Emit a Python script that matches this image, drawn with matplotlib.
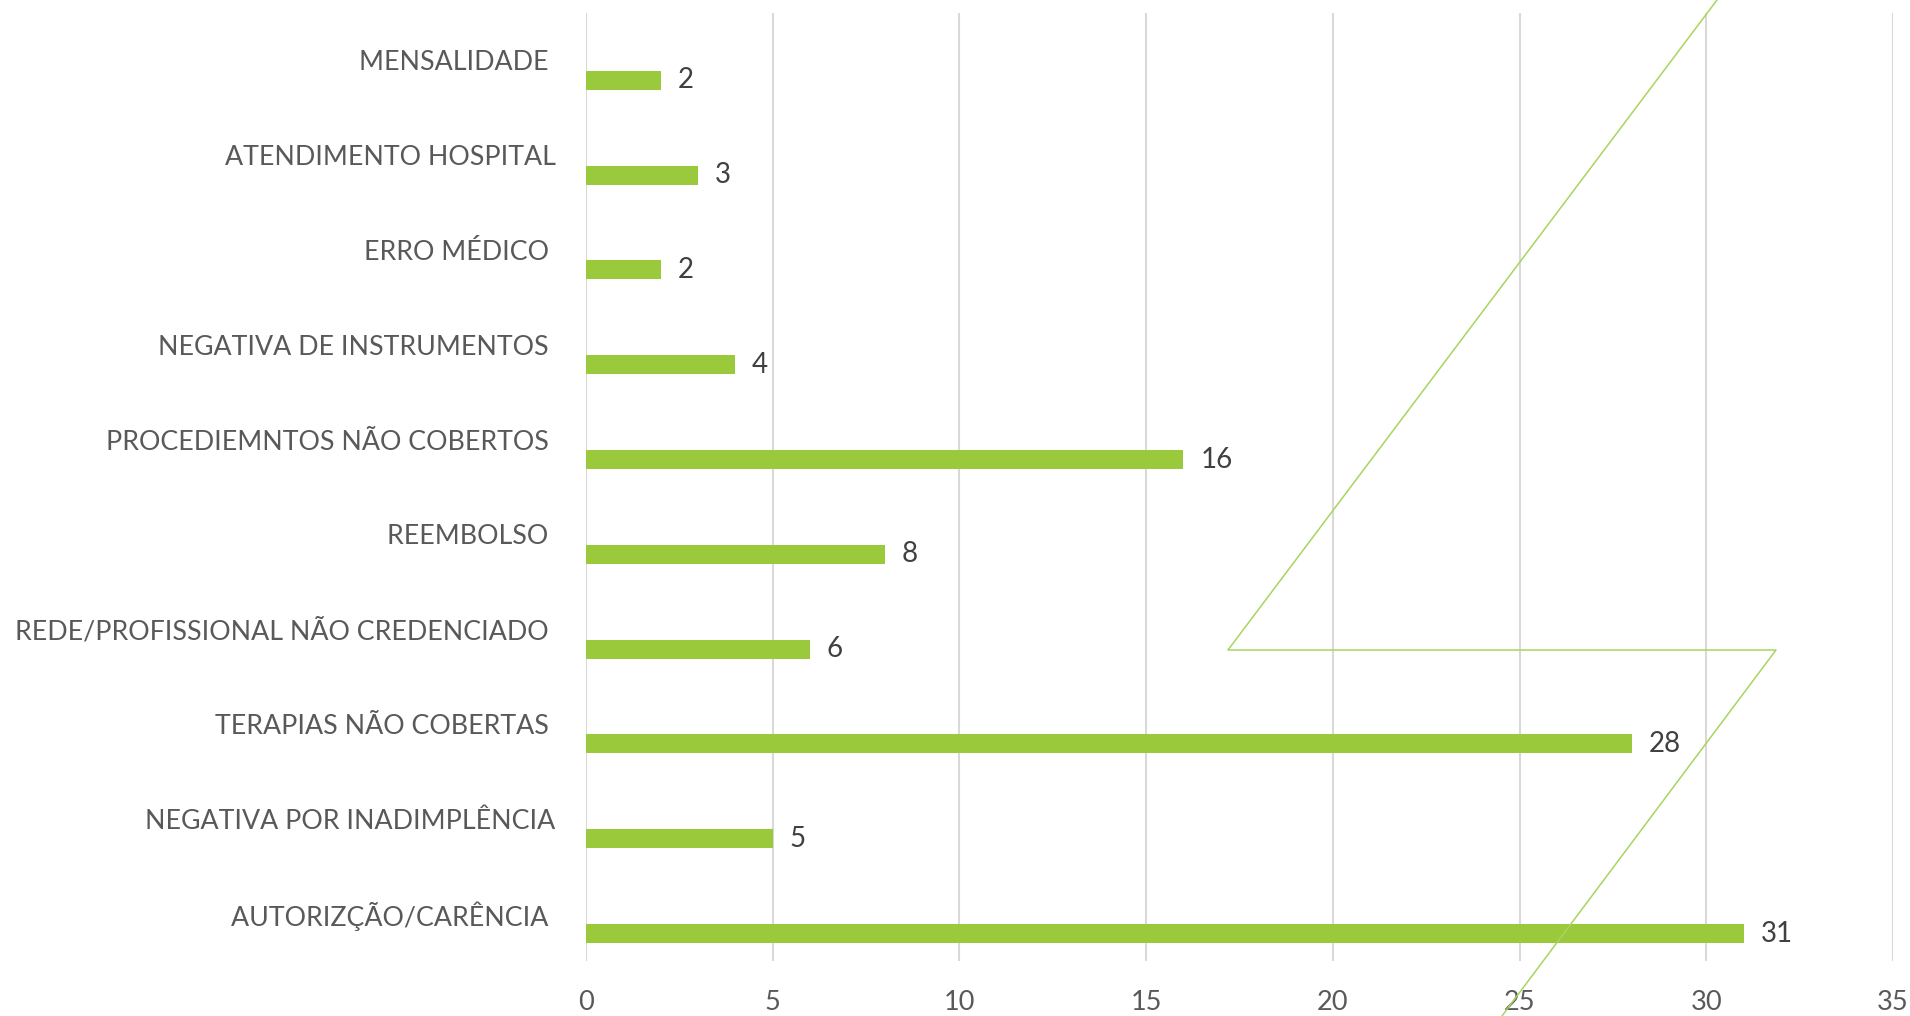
import matplotlib.pyplot as plt
from matplotlib.lines import Line2D

# categories top to bottom, as in the original sheet (trailing spaces kept)
categorias = ['MENSALIDADE ', 'ATENDIMENTO HOSPITAL', 'ERRO MÉDICO ',
              'NEGATIVA DE INSTRUMENTOS ', 'PROCEDIEMNTOS NÃO COBERTOS ',
              'REEMBOLSO ', 'REDE/PROFISSIONAL NÃO CREDENCIADO ',
              'TERAPIAS NÃO COBERTAS ', 'NEGATIVA POR INADIMPLÊNCIA',
              'AUTORIZÇÃO/CARÊNCIA ']
valores = [2, 3, 2, 4, 16, 8, 6, 28, 5, 31]
xticks = [0, 5, 10, 15, 20, 25, 30, 35]

verde = '#9ACA3C'
cinza = '#595959'

plt.rcParams['font.family'] = ['Lato', 'DejaVu Sans']

W, H = 1910, 1016
fig = plt.figure(figsize=(W / 100, H / 100), dpi=100)
ax = fig.add_axes([586 / W, 1 - 961 / H, (1893 - 586) / W, (961 - 13) / H])

pos = list(range(len(categorias)))
# bar sits in the lower part of each category slot (second series of a cluster)
bar_pos = [p + 0.21 for p in pos]
ax.barh(bar_pos, valores, height=0.2, color=verde, zorder=3)

for y, v in zip(bar_pos, valores):
    ax.text(v + 0.45, y, str(v), va='center', ha='left', fontsize=20, color='#404040')

ax.set_ylim(len(categorias) - 0.5, -0.5)
ax.set_xlim(0, 35)
ax.set_xticks(xticks)
ax.set_yticks(pos)
ax.set_yticklabels(categorias, fontsize=19.3, color=cinza)
ax.tick_params(axis='x', labelsize=19.5, labelcolor=cinza, length=0, pad=21)
ax.tick_params(axis='y', length=0, pad=22)

ax.grid(axis='x', color='#D9D9D9', lw=1.5, zorder=0)
for s in ax.spines.values():
    s.set_visible(False)

# decorative lightning stroke over the chart (pixel positions of the figure)
px = [1717, 1228, 1776, 1502]
py = [0, 650, 650, 1016]
fig.add_artist(Line2D([x / W for x in px], [1 - y / H for y in py],
                      transform=fig.transFigure, color='#A9D45E', lw=1.1, zorder=10))

fig.savefig('out.png', dpi=100)
